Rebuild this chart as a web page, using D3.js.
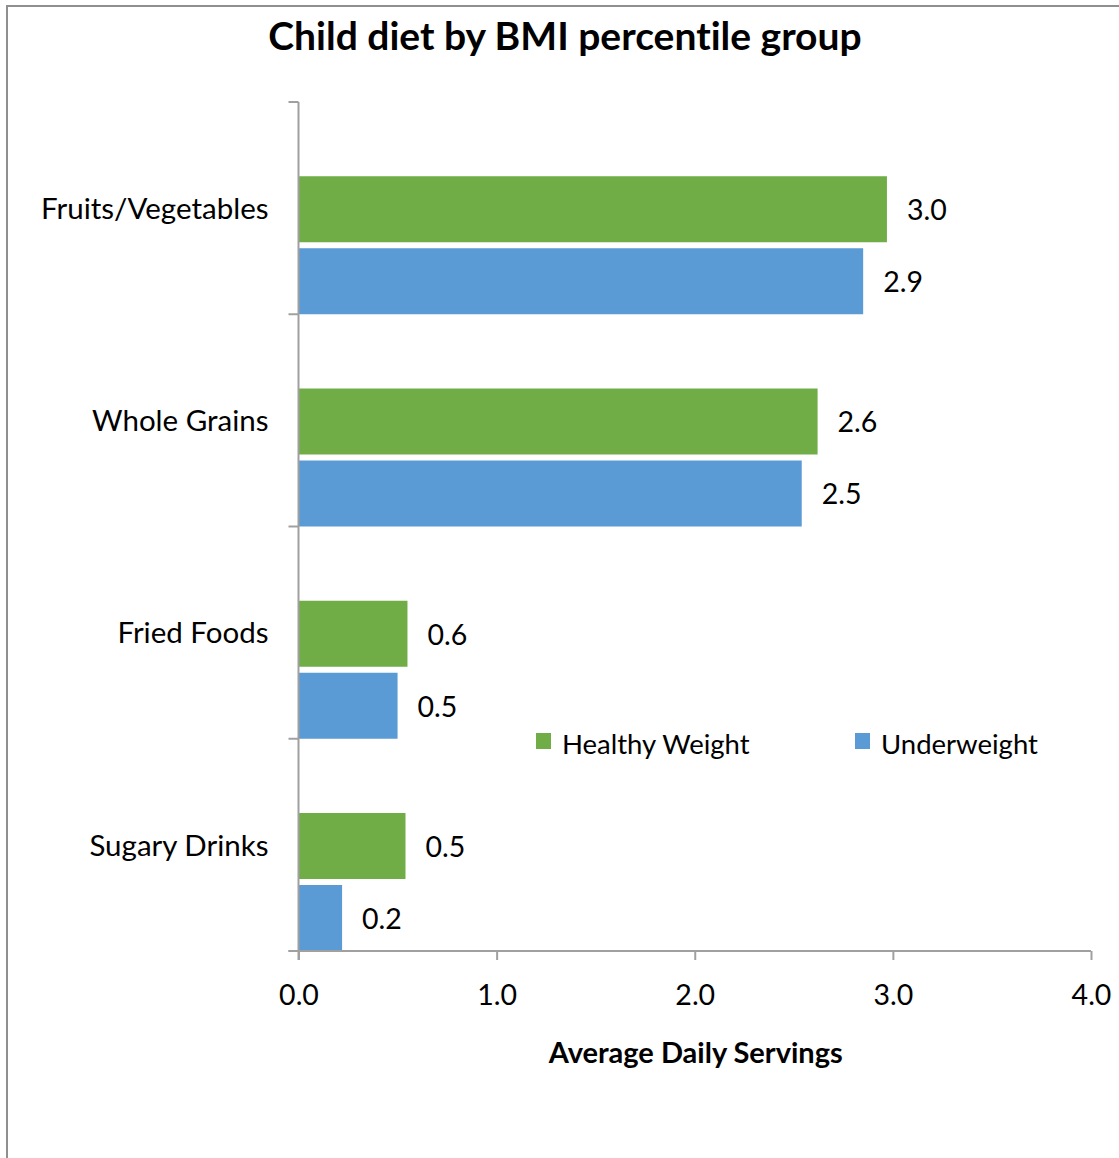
<!DOCTYPE html>
<html>
<head>
<meta charset="utf-8">
<script src="https://cdn.jsdelivr.net/npm/d3@7"></script>
<style>
  html, body { margin: 0; padding: 0; background: #fff; }
  svg { display: block; }
  text { font-family: Lato, "Open Sans", sans-serif; fill: #000; font-variant-ligatures: none; }
</style>
</head>
<body>
<div id="chart"></div>
<script>
// Average daily servings by food group and BMI percentile group
const categories = ["Fruits/Vegetables", "Whole Grains", "Fried Foods", "Sugary Drinks"];
const seriesNames = ["Healthy Weight", "Underweight"];
const healthyWeight = [2.97, 2.62, 0.55, 0.54];
const underweight = [2.85, 2.54, 0.50, 0.22];
const xTicks = [0, 1, 2, 3, 4];
const colors = { "Healthy Weight": "#70AD47", "Underweight": "#5B9BD5" };

const W = 1119, H = 1158;
const plot = { left: 298.5, right: 1091, top: 102, bottom: 951 };

const svg = d3.select("#chart").append("svg")
  .attr("width", W).attr("height", H);

// chart area frame
svg.append("rect")
  .attr("x", 7).attr("y", 6)
  .attr("width", 1140).attr("height", 1180)
  .attr("fill", "#fff")
  .attr("stroke", "#8f8f8f").attr("stroke-width", 2);

svg.append("text")
  .attr("x", 565).attr("y", 50)
  .attr("text-anchor", "middle")
  .attr("font-size", 39).attr("font-weight", 700)
  .text("Child diet by BMI percentile group");

const x = d3.scaleLinear().domain([0, 4]).range([plot.left, plot.right]);
const y0 = d3.scaleBand().domain(categories).range([plot.top, plot.bottom]).padding(0);
const bw = y0.bandwidth();
const y1 = d3.scaleBand().domain(seriesNames)
  .range([bw - 138, bw]).paddingInner(6 / 72).paddingOuter(0);

const rows = categories.map((c, i) => ({
  category: c,
  values: [
    { series: "Healthy Weight", value: healthyWeight[i] },
    { series: "Underweight", value: underweight[i] }
  ]
}));

const fmt = d3.format(".1f");

const groups = svg.append("g").selectAll("g")
  .data(rows).join("g")
  .attr("transform", d => `translate(0,${y0(d.category)})`);

groups.selectAll("rect")
  .data(d => d.values).join("rect")
  .attr("x", x(0))
  .attr("y", d => y1(d.series))
  .attr("width", d => x(d.value) - x(0))
  .attr("height", y1.bandwidth())
  .attr("fill", d => colors[d.series]);

groups.selectAll("text.val")
  .data(d => d.values).join("text")
  .attr("class", "val")
  .attr("x", d => x(d.value) + 20)
  .attr("y", d => y1(d.series) + y1.bandwidth() / 2)
  .attr("dy", "0.38em")
  .attr("font-size", 28.5)
  .text(d => fmt(d.value));

// category axis
const yAxis = d3.axisLeft(y0).tickSize(0).tickPadding(30);
const gy = svg.append("g").attr("transform", `translate(${plot.left},0)`).call(yAxis);
gy.select(".domain").remove();
gy.selectAll("text").attr("font-size", 29.5).attr("font-family", "Lato, sans-serif").attr("fill", "#000")
  .attr("dy", "0.36em");

const axisColor = "#a0a0a0";
// vertical axis line and category boundary ticks
svg.append("line")
  .attr("x1", plot.left).attr("x2", plot.left)
  .attr("y1", plot.top).attr("y2", plot.bottom + 9)
  .attr("stroke", axisColor).attr("stroke-width", 2);
const bounds = categories.map(c => y0(c)).concat([plot.bottom]);
svg.append("g").selectAll("line").data(bounds).join("line")
  .attr("x1", plot.left - 10).attr("x2", plot.left)
  .attr("y1", d => d).attr("y2", d => d)
  .attr("stroke", axisColor).attr("stroke-width", 2);

// value axis
const xAxis = d3.axisBottom(x).tickValues(xTicks).tickSize(9).tickPadding(25)
  .tickFormat(fmt);
const gx = svg.append("g").attr("transform", `translate(0,${plot.bottom})`).call(xAxis);
gx.select(".domain").attr("stroke", axisColor).attr("stroke-width", 2)
  .attr("d", `M${plot.left - 10},0H${plot.right}`);
gx.selectAll(".tick line").attr("stroke", axisColor).attr("stroke-width", 2);
gx.selectAll("text").attr("font-size", 28.5).attr("font-family", "Lato, sans-serif").attr("fill", "#000");

svg.append("text")
  .attr("x", (plot.left + plot.right) / 2 + 1).attr("y", 1063)
  .attr("text-anchor", "middle")
  .attr("font-size", 29).attr("font-weight", 700)
  .text("Average Daily Servings");

// legend
const legendX = [536, 855];
const legend = svg.append("g").selectAll("g")
  .data(seriesNames).join("g")
  .attr("transform", (d, i) => `translate(${legendX[i]},733)`);
legend.append("rect")
  .attr("width", 15).attr("height", 16)
  .attr("fill", d => colors[d]);
legend.append("text")
  .attr("x", 26).attr("y", 11).attr("dy", "0.36em")
  .attr("font-size", 27.5)
  .text(d => d);
</script>
</body>
</html>
